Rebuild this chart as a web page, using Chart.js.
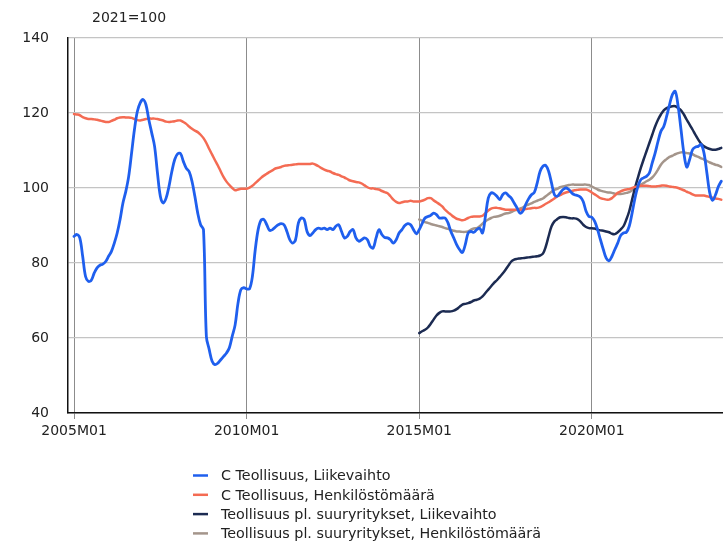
<!DOCTYPE html>
<html>
<head>
<meta charset="utf-8">
<script src="https://cdn.jsdelivr.net/npm/chart.js@4/dist/chart.umd.min.js"></script>
<style>
  html, body { margin: 0; padding: 0; background: #fff; overflow: hidden; }
  #wrap { width: 723px; height: 544px; }
</style>
</head>
<body>
<div id="wrap"><canvas id="indexChart" width="723" height="544"></canvas></div>
<script>
   // Monthly categories 2005M01 .. 2023M10
   const months = [];
   for (let y = 2005; y <= 2023; y++) {
       for (let m = 1; m <= 12; m++) {
           if (y === 2023 && m > 10) break;
           months.push(y + 'M' + String(m).padStart(2, '0'));
       }
   }
   const xTickLabels = ['2005M01', '2010M01', '2015M01', '2020M01'];
   const yTicks = [40, 60, 80, 100, 120, 140];

   // C Teollisuus, Liikevaihto (from 2005M01)
   const cTurnover = [
       87.1, 87.6, 86.7, 81.8, 76.4, 75.1, 75.4, 77.3, 78.7, 79.4,
       79.7, 80.4, 81.8, 83.1, 85.3, 88.0, 91.6, 96.0, 99.1, 103.1,
       109.3, 115.6, 120.4, 122.7, 123.6, 122.2, 118.2, 114.7, 111.1, 104.0,
       97.8, 96.0, 97.3, 100.4, 104.4, 107.6, 109.1, 109.2, 107.1, 105.3,
       104.4, 101.8, 97.8, 93.3, 90.2, 88.9, 60.4, 56.9, 53.8, 52.9,
       53.3, 54.2, 55.1, 56.0, 57.4, 60.5, 63.5, 69.3, 72.9, 73.4,
       73.1, 73.1, 76.4, 83.6, 88.9, 91.4, 91.6, 90.2, 88.7, 88.9,
       89.6, 90.2, 90.5, 90.2, 88.4, 86.2, 85.3, 86.2, 90.7, 92.0,
       91.6, 88.4, 87.3, 88.0, 88.9, 89.3, 89.1, 89.3, 88.9, 89.3,
       88.9, 89.8, 90.2, 88.4, 86.7, 87.1, 88.4, 88.9, 86.7, 85.8,
       86.2, 86.7, 86.2, 84.4, 84.0, 86.7, 88.9, 87.6, 86.8, 86.7,
       86.2, 85.3, 86.2, 88.0, 88.9, 90.0, 90.5, 90.2, 88.9, 87.8,
       88.9, 90.5, 92.0, 92.4, 92.7, 93.3, 92.9, 92.0, 92.0, 92.0,
       90.7, 88.4, 86.7, 84.9, 83.6, 82.8, 84.9, 88.0, 88.4, 88.2,
       88.9, 89.3, 88.0, 92.4, 97.3, 98.7, 98.5, 97.8, 96.9, 98.2,
       98.7, 98.0, 97.3, 96.0, 94.7, 93.3, 93.8, 95.6, 97.1, 98.2,
       98.8, 101.3, 104.4, 105.8, 106.0, 104.4, 101.3, 98.2, 97.8, 98.7,
       99.6, 100.0, 99.6, 98.7, 98.2, 98.0, 97.6, 96.4, 93.8, 92.4,
       92.2, 91.1, 88.9, 86.2, 83.6, 81.3, 80.6, 81.8, 83.6, 85.3,
       87.3, 88.0, 88.2, 89.8, 93.3, 97.3, 100.4, 102.2, 102.7, 103.1,
       104.0, 106.7, 109.3, 112.4, 115.1, 116.4, 119.1, 122.2, 124.9, 125.8,
       121.8, 115.6, 109.3, 105.6, 107.6, 110.2, 110.9, 111.1, 111.6, 109.3,
       104.0, 98.7, 96.7, 98.2, 100.4, 101.8
   ];

   // C Teollisuus, Henkilöstömäärä (from 2005M01)
   const cStaff = [
       119.7, 119.6, 119.4, 118.9, 118.6, 118.4, 118.4, 118.3, 118.2, 118.0,
       117.8, 117.6, 117.6, 117.9, 118.2, 118.6, 118.8, 118.9, 118.8, 118.8,
       118.7, 118.4, 118.1, 118.0, 118.2, 118.4, 118.5, 118.5, 118.5, 118.4,
       118.2, 118.0, 117.7, 117.6, 117.7, 117.8, 118.0, 118.0, 117.6, 117.1,
       116.4, 115.8, 115.3, 114.9, 114.2, 113.3, 112.0, 110.4, 108.9, 107.4,
       106.0, 104.4, 102.9, 101.7, 100.8, 100.0, 99.4, 99.6, 99.8, 99.8,
       99.8, 100.1, 100.6, 101.3, 102.0, 102.7, 103.3, 103.8, 104.3, 104.7,
       105.2, 105.4, 105.6, 105.9, 106.0, 106.1, 106.2, 106.3, 106.4, 106.4,
       106.4, 106.4, 106.4, 106.5, 106.2, 105.8, 105.3, 104.9, 104.6, 104.4,
       104.0, 103.7, 103.5, 103.1, 102.8, 102.4, 102.0, 101.8, 101.6, 101.5,
       101.2, 100.7, 100.2, 99.9, 99.9, 99.7, 99.6, 99.2, 98.9, 98.6,
       97.8, 96.9, 96.3, 96.0, 96.2, 96.4, 96.4, 96.6, 96.4, 96.4,
       96.4, 96.6, 96.9, 97.3, 97.3, 96.7, 96.2, 95.7, 95.1, 94.2,
       93.5, 92.9, 92.3, 91.8, 91.6, 91.4, 91.6, 92.0, 92.3, 92.4,
       92.4, 92.4, 92.6, 93.3, 94.0, 94.5, 94.7, 94.7, 94.6, 94.4,
       94.2, 94.2, 94.2, 94.2, 94.2, 94.2, 94.2, 94.4, 94.5, 94.6,
       94.7, 94.7, 94.9, 95.3, 95.8, 96.2, 96.7, 97.2, 97.8, 98.1,
       98.5, 98.8, 99.0, 99.2, 99.4, 99.5, 99.6, 99.6, 99.6, 99.3,
       98.8, 98.3, 97.8, 97.3, 97.1, 96.9, 96.9, 97.3, 98.0, 98.7,
       99.1, 99.4, 99.6, 99.7, 100.0, 100.3, 100.4, 100.6, 100.6, 100.6,
       100.5, 100.4, 100.4, 100.5, 100.6, 100.7, 100.6, 100.4, 100.3, 100.2,
       100.0, 99.7, 99.4, 99.0, 98.7, 98.3, 98.0, 98.0, 98.0, 98.0,
       97.8, 97.6, 97.4, 97.2, 97.1, 96.9
   ];

   // Teollisuus pl. suuryritykset -series start at 2015M01
   const smeStart = '2015M01';

   // Teollisuus pl. suuryritykset, Liikevaihto
   const smeTurnover = [
       61.3, 61.8, 62.2, 62.8, 63.8, 64.9, 66.0, 66.7, 67.1, 67.1,
       67.1, 67.1, 67.3, 67.7, 68.3, 68.9, 69.1, 69.3, 69.6, 70.0,
       70.2, 70.5, 71.1, 72.0, 72.9, 73.8, 74.7, 75.4, 76.3, 77.2,
       78.2, 79.3, 80.4, 80.9, 81.1, 81.2, 81.3, 81.4, 81.5, 81.6,
       81.7, 81.8, 82.0, 82.5, 84.4, 87.2, 89.8, 91.1, 91.7, 92.2,
       92.3, 92.2, 92.0, 91.9, 91.9, 91.7, 91.1, 90.2, 89.6, 89.3,
       89.3, 89.2, 88.9, 88.7, 88.6, 88.4, 88.2, 87.8, 87.7, 88.2,
       88.9, 89.8, 91.6, 93.8, 96.9, 100.0, 102.7, 105.3, 107.6, 109.8,
       112.0, 114.2, 116.4, 118.2, 119.6, 120.7, 121.3, 121.6, 121.8, 121.8,
       121.3, 120.7, 119.6, 118.2, 116.9, 115.6, 114.2, 112.9, 111.8, 111.1,
       110.7, 110.4, 110.2, 110.2, 110.4, 110.7
   ];

   // Teollisuus pl. suuryritykset, Henkilöstömäärä
   const smeStaff = [
       91.6, 91.3, 90.9, 90.7, 90.4, 90.2, 90.0, 89.8, 89.6, 89.3,
       89.1, 88.8, 88.6, 88.4, 88.4, 88.3, 88.3, 88.4, 88.9, 89.2,
       89.3, 89.8, 90.5, 91.1, 91.6, 92.0, 92.3, 92.4, 92.6, 92.9,
       93.2, 93.3, 93.6, 94.0, 94.2, 94.5, 94.8, 95.3, 95.6, 95.9,
       96.3, 96.6, 96.9, 97.2, 97.8, 98.4, 99.0, 99.5, 99.8, 100.2,
       100.4, 100.6, 100.8, 100.9, 100.9, 100.9, 100.9, 100.9, 100.9, 100.8,
       100.4, 100.0, 99.6, 99.3, 99.1, 98.9, 98.8, 98.7, 98.5, 98.4,
       98.4, 98.5, 98.7, 98.9, 99.4, 99.9, 100.4, 100.9, 101.3, 101.8,
       102.2, 102.8, 103.7, 104.9, 106.2, 107.1, 107.7, 108.3, 108.6, 109.0,
       109.3, 109.5, 109.5, 109.3, 109.2, 109.0, 108.6, 108.3, 107.9, 107.6,
       107.2, 106.8, 106.5, 106.2, 106.0, 105.6
   ];

   const seriesLabels = [
       'C Teollisuus, Liikevaihto',
       'C Teollisuus, Henkilöstömäärä',
       'Teollisuus pl. suuryritykset, Liikevaihto',
       'Teollisuus pl. suuryritykset, Henkilöstömäärä'
   ];
   const seriesColors = ['#1f5fee', '#f46b53', '#1c2b52', '#a4958b'];

   // build {x, y} points on a month-index axis
   const toPoints = (values, start) => values.map((v, i) => ({ x: start + i, y: v }));
   const smeOffset = months.indexOf(smeStart);

   const FONT = "'DejaVu Sans', Verdana, sans-serif";

   // "2021=100" note and the vertical legend under the axis
   const notesAndLegend = {
       id: 'notesAndLegend',
       afterDraw(chart) {
           const ctx = chart.ctx;
           ctx.save();
           ctx.fillStyle = '#222';
           ctx.font = '14px ' + FONT;
           ctx.textBaseline = 'middle';
           ctx.textAlign = 'left';
           ctx.fillText('2021=100', 92, 18);

           ctx.font = '14.3px ' + FONT;
           chart.data.datasets.forEach((ds, i) => {
               const y = 475.5 + i * 19.3;
               ctx.strokeStyle = ds.borderColor;
               ctx.lineWidth = 2.5;
               ctx.beginPath();
               ctx.moveTo(193, y);
               ctx.lineTo(208, y);
               ctx.stroke();
               ctx.fillStyle = '#222';
               ctx.fillText(ds.label, 221, y + 1);
           });
           ctx.restore();
       }
   };

   const indexChart = new Chart(document.getElementById('indexChart').getContext('2d'), {
       type: 'line',
       data: {
           datasets: [
               { label: seriesLabels[0], data: toPoints(cTurnover, 0), borderColor: seriesColors[0], borderWidth: 2.8 },
               { label: seriesLabels[1], data: toPoints(cStaff, 0), borderColor: seriesColors[1], borderWidth: 2.5 },
               { label: seriesLabels[2], data: toPoints(smeTurnover, smeOffset), borderColor: seriesColors[2], borderWidth: 2.5 },
               { label: seriesLabels[3], data: toPoints(smeStaff, smeOffset), borderColor: seriesColors[3], borderWidth: 2.5 }
           ]
       },
       options: {
           responsive: false,
           animation: false,
           devicePixelRatio: 1,
           layout: { padding: { top: 38, right: 0, left: 0, bottom: 0 } },
           elements: {
               point: { radius: 0 },
               line: { tension: 0.35, fill: false, borderCapStyle: 'round', borderJoinStyle: 'round' }
           },
           plugins: {
               legend: { display: false },
               title: { display: false },
               tooltip: { enabled: false }
           },
           scales: {
               x: {
                   type: 'linear',
                   min: -2.1,
                   max: 225.6,
                   afterFit: (s) => { s.height = 131; },
                   afterBuildTicks: (s) => {
                       s.ticks = xTickLabels.map(l => ({ value: months.indexOf(l) }));
                   },
                   ticks: {
                       autoSkip: false,
                       maxRotation: 0,
                       padding: 4,
                       color: '#222',
                       font: { family: FONT, size: 14 },
                       callback: (v) => months[v]
                   },
                   grid: {
                       color: 'rgba(0,0,0,0.45)',
                       lineWidth: 1,
                       drawTicks: true,
                       tickLength: 6
                   },
                   border: { display: true, color: '#111', width: 1.5 }
               },
               y: {
                   min: 40,
                   max: 140,
                   afterFit: (s) => { s.width = 68; },
                   afterBuildTicks: (s) => {
                       s.ticks = yTicks.map(v => ({ value: v }));
                   },
                   ticks: {
                       padding: 19,
                       color: '#222',
                       font: { family: FONT, size: 14 }
                   },
                   grid: {
                       color: '#c4c4c4',
                       lineWidth: 1.2,
                       drawTicks: false
                   },
                   border: { display: true, color: '#111', width: 1.5 }
               }
           }
       },
       plugins: [notesAndLegend]
   });
</script>
</body>
</html>
